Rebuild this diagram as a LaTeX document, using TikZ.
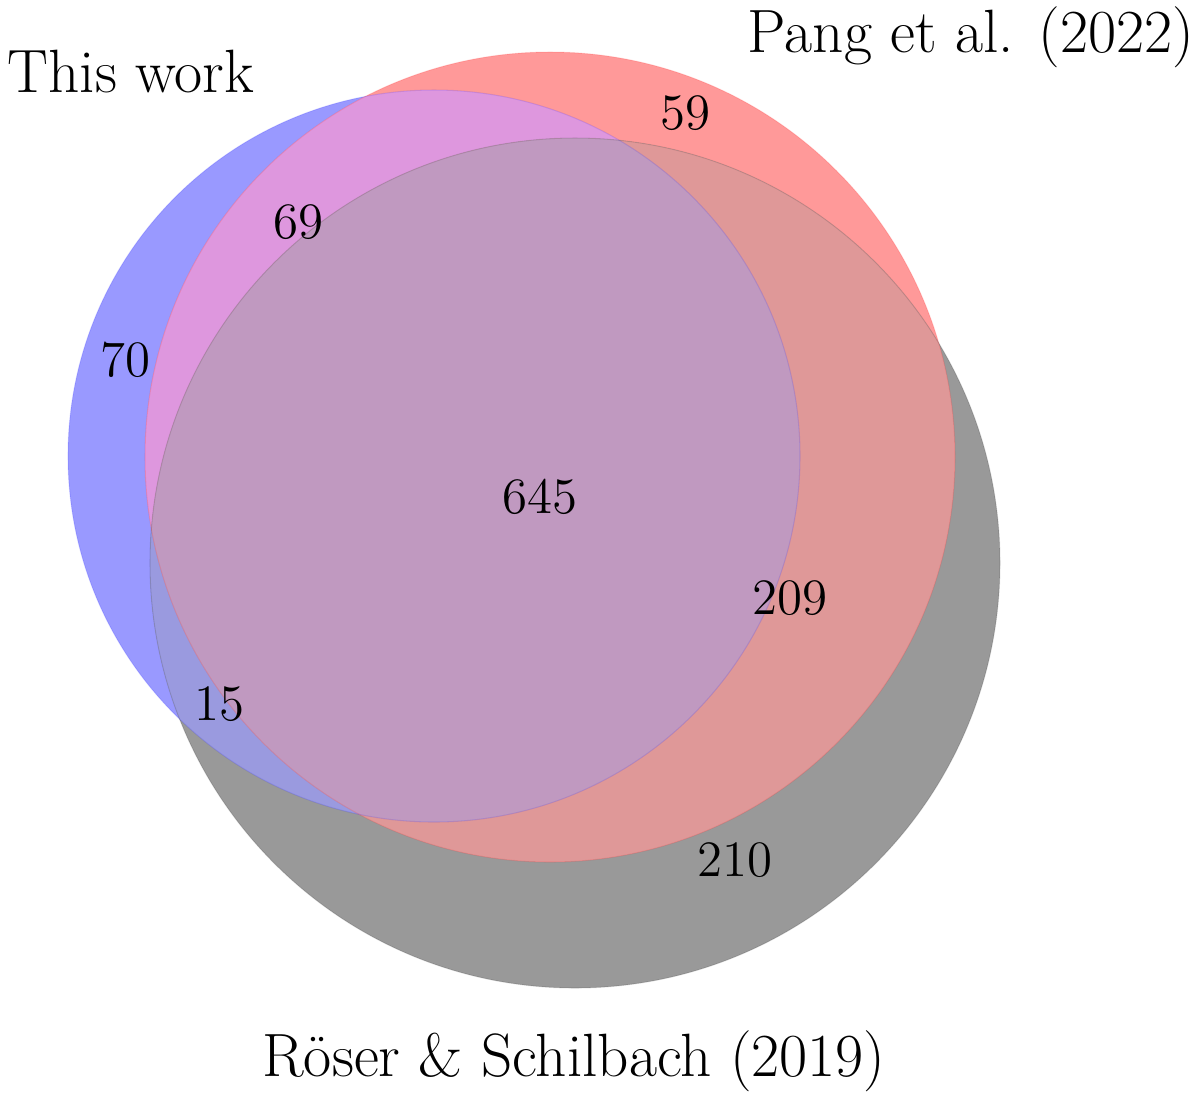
\documentclass[tikz,border=0pt]{standalone}
\usetikzlibrary{positioning}

\definecolor{workcol}{HTML}{9999FF}
\definecolor{pangcol}{HTML}{FF9999}
\definecolor{rosercol}{HTML}{999999}
\definecolor{wpcol}{HTML}{DE97DE}
\definecolor{wrcol}{HTML}{9A9ADF}
\definecolor{prcol}{HTML}{DF9898}
\definecolor{allcol}{HTML}{C099C0}

\newcommand{\workset}{(434,456) circle[radius=366]}
\newcommand{\pangset}{(550,457) circle[radius=405]}
\newcommand{\roserset}{(575,563) circle[radius=425]}

\begin{document}
\begin{tikzpicture}[x=0.1mm,y=-0.1mm,
    setlabel/.style={font=\fontsize{17.4}{20}\selectfont, inner sep=0pt},
    count/.style={font=\fontsize{14.5}{17}\selectfont, inner sep=0pt},
    rim/.style={draw opacity=0.12, line width=0.3pt}]
  \useasboundingbox (0,0) rectangle (1200,1098);

  % whole sets
  \fill[workcol] \workset;
  \fill[pangcol] \pangset;
  \fill[rosercol] \roserset;

  % pairwise overlaps
  \begin{scope}
    \clip \workset;
    \fill[wpcol] \pangset;
    \fill[wrcol] \roserset;
  \end{scope}
  \begin{scope}
    \clip \pangset;
    \fill[prcol] \roserset;
  \end{scope}
  % all three
  \begin{scope}
    \clip \workset;
    \clip \pangset;
    \fill[allcol] \roserset;
  \end{scope}

  % rims
  \draw[rim, blue] \workset;
  \draw[rim, red] \pangset;
  \draw[rim, black] \roserset;

  % set names
  \node[setlabel, anchor=base west] (work) at (7,92) {This work};
  \node[setlabel, anchor=base east] (pang) at (1195,52) {Pang et al. (2022)};
  \node[setlabel, anchor=base] (roser) at (574,1076) {R\"oser \& Schilbach (2019)};

  % region counts
  \node[count] (n59) at (685,113) {59};
  \node[count] (n69) at (298,222) {69};
  \node[count] (n70) at (125,360) {70};
  \node[count] (n645) at (540,497) {645};
  \node[count] (n209) at (790,598) {209};
  \node[count] (n15) at (219,704) {15};
  \node[count] (n210) at (735,860) {210};
\end{tikzpicture}
\end{document}
